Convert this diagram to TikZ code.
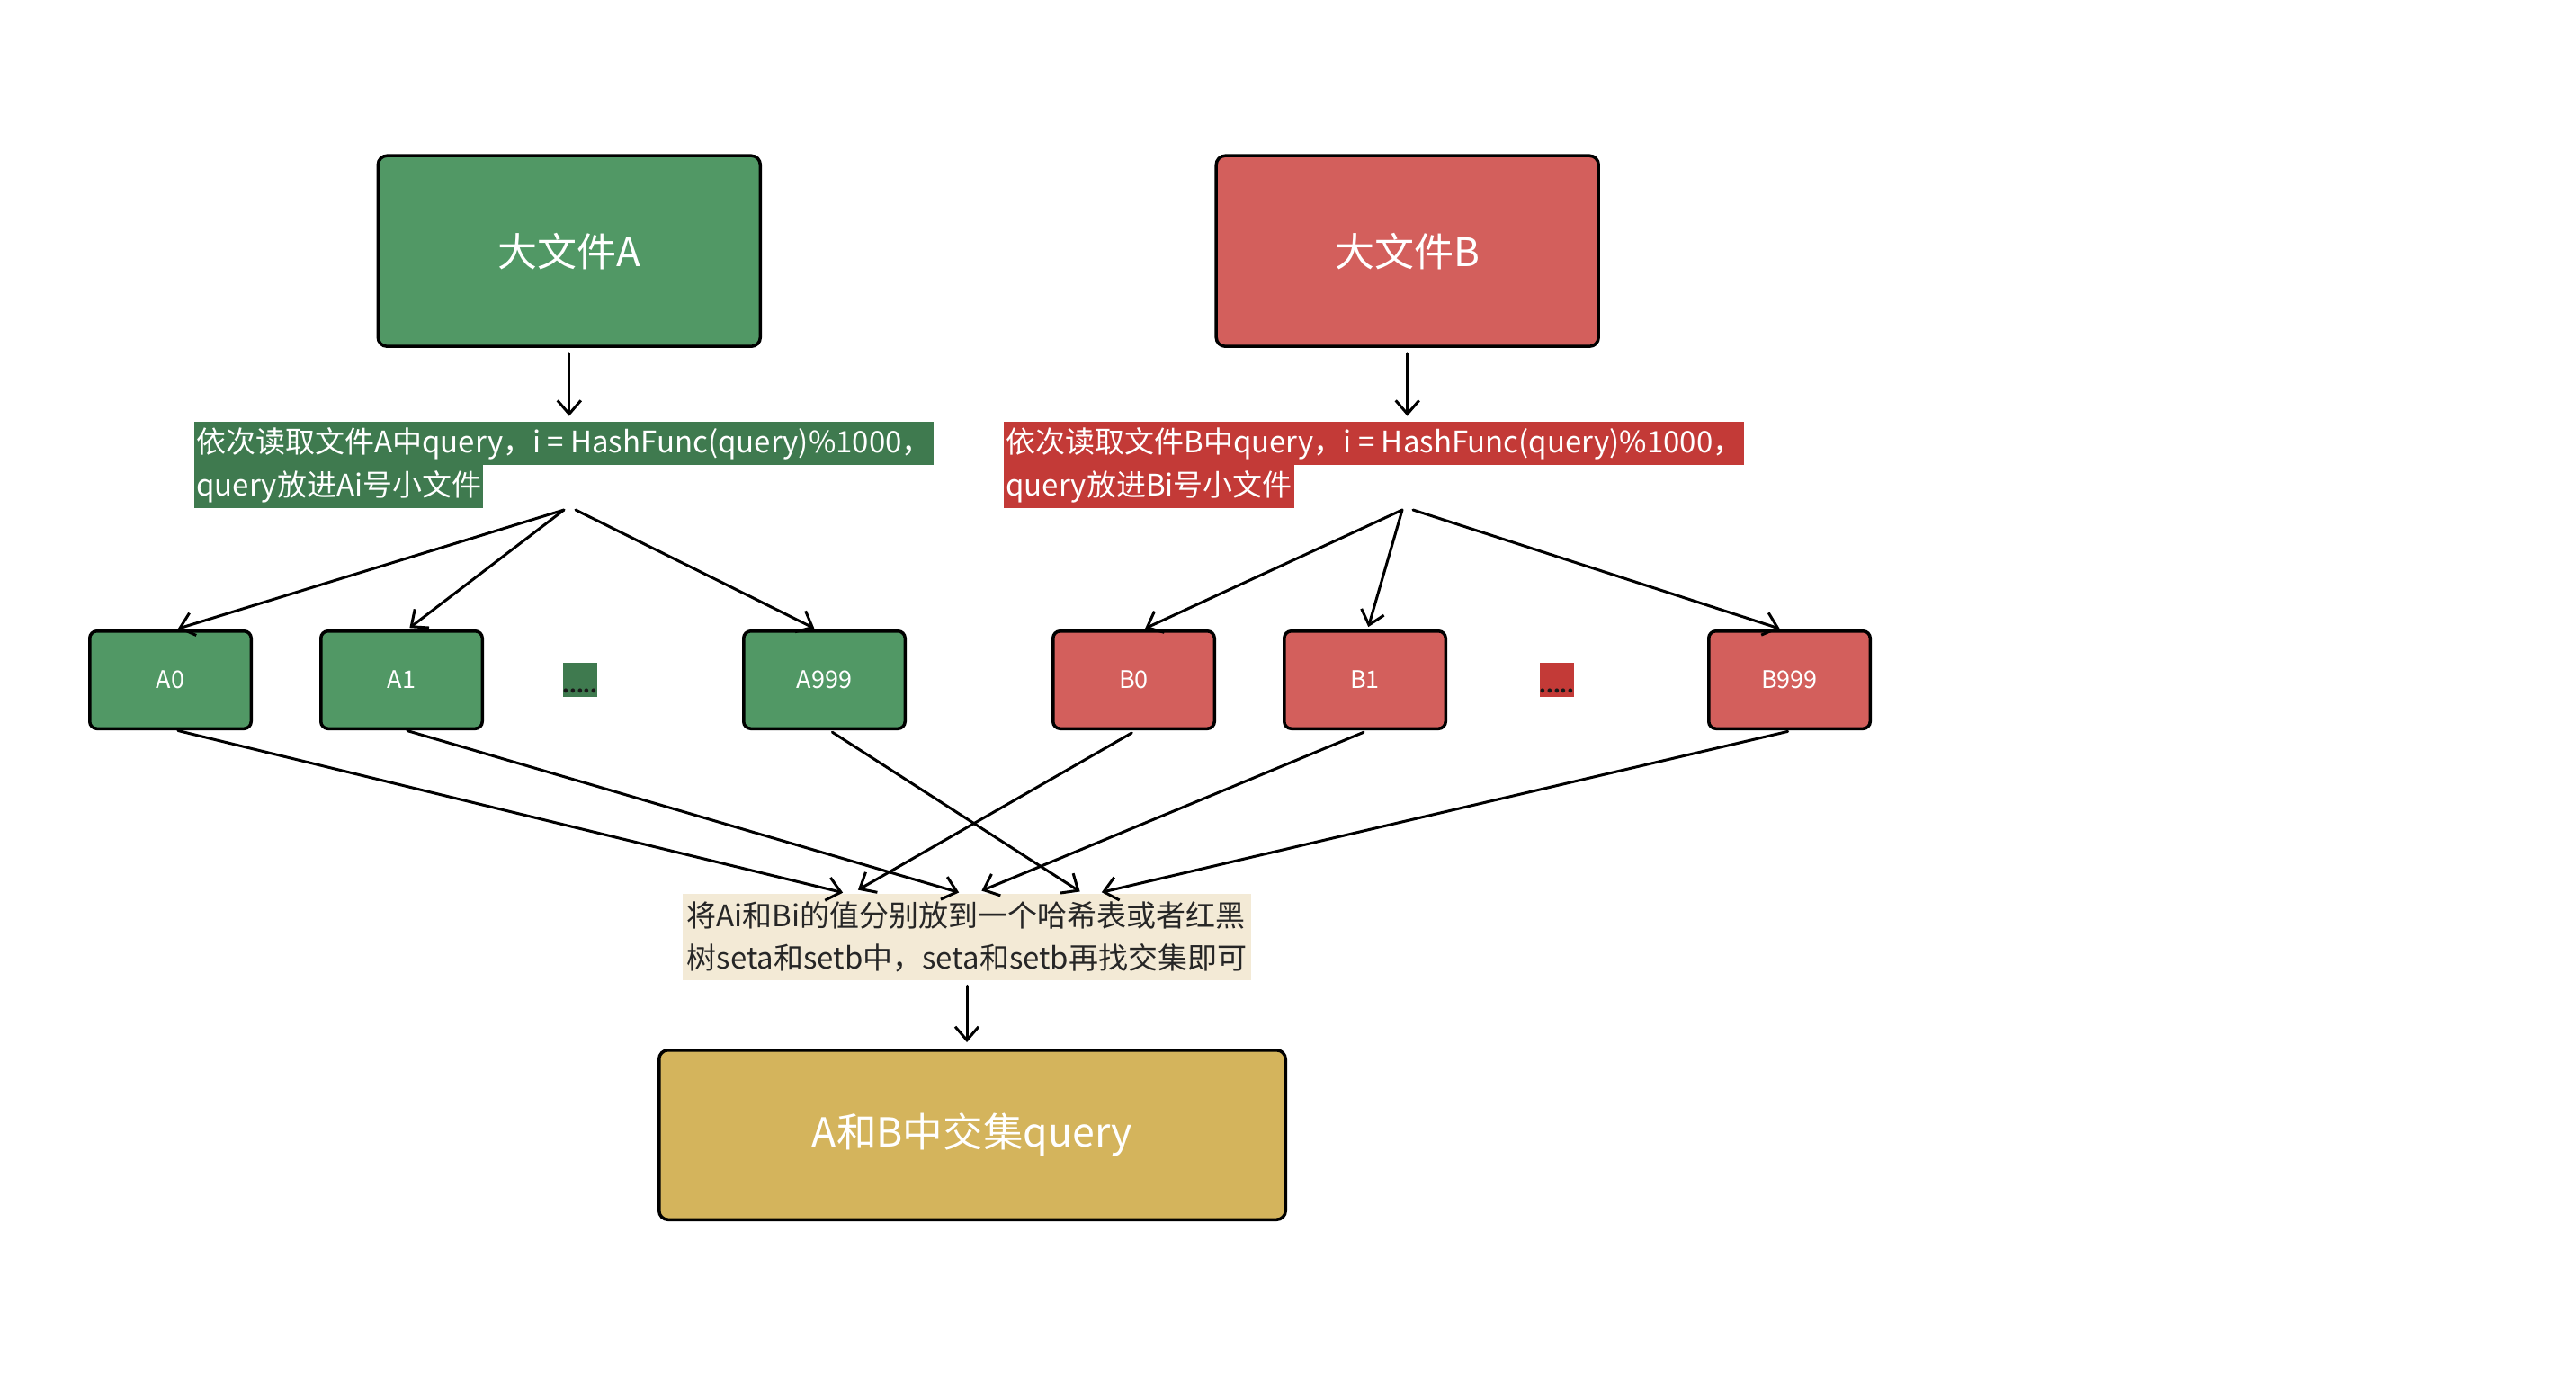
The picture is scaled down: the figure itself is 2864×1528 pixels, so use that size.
\documentclass[tikz,border=0pt]{standalone}
\usepackage{fontspec}
\setmainfont{Noto Sans CJK SC}
\usetikzlibrary{arrows.meta}
\definecolor{gbox}{HTML}{519865}
\definecolor{gband}{HTML}{3F7A4F}
\definecolor{rbox}{HTML}{D35F5C}
\definecolor{rband}{HTML}{C33A37}
\definecolor{ybox}{HTML}{D4B45C}
\definecolor{beige}{HTML}{F3EAD6}
\begin{document}
\begin{tikzpicture}[x=0.5pt,y=-0.5pt,
  bigbox/.style={draw=black, line width=1.75pt, rounded corners=5pt, minimum width=212.5pt, minimum height=106pt, text=white, font=\fontsize{22}{26}\selectfont, inner sep=0pt},
  smallbox/.style={draw=black, line width=1.75pt, rounded corners=4pt, minimum width=89.75pt, minimum height=54.25pt, text=white, font=\fontsize{13.5}{15}\selectfont, inner sep=0pt},
  band/.style={anchor=west, text=white, font=\fontsize{16.5}{20}\selectfont, minimum height=24pt, inner xsep=1pt, inner ysep=0pt},
  dotbox/.style={minimum width=18pt, minimum height=19pt, inner xsep=0pt, inner ysep=2pt, text height=14pt, text depth=0pt, font=\fontsize{11}{11}\selectfont\bfseries, text=black!90},
  arr/.style={-{Straight Barb[length=7.5pt,width=13pt]}, line width=1.5pt, line cap=round, line join=round},
]
\useasboundingbox (0,0) rectangle (2864,1528);

% big boxes
\node[bigbox, fill=gbox] (bigA) at (632.8,279.2) {大文件A};
\node[bigbox, fill=rbox] (bigB) at (1564.7,279.2) {大文件B};

% hash labels
\node[band, fill=gband] (labA1) at (216,493) {依次读取文件A中query，i = HashFunc(query)\%1000，};
\node[band, fill=gband] (labA2) at (216,541) {query放进Ai号小文件};
\node[band, fill=rband] (labB1) at (1116,493) {依次读取文件B中query，i = HashFunc(query)\%1000，};
\node[band, fill=rband] (labB2) at (1116,541) {query放进Bi号小文件};

% small boxes
\node[smallbox, fill=gbox] (A0) at (189.5,756) {A0};
\node[smallbox, fill=gbox] (A1) at (446.5,756) {A1};
\node[dotbox, fill=gband] (dA) at (645,756) {.....};
\node[smallbox, fill=gbox] (A999) at (916.5,756) {A999};
\node[smallbox, fill=rbox] (B0) at (1260.5,756) {B0};
\node[smallbox, fill=rbox] (B1) at (1517.5,756) {B1};
\node[dotbox, fill=rband] (dB) at (1731,756) {.....};
\node[smallbox, fill=rbox] (B999) at (1989.5,756) {B999};

% merge label
\node[fill=beige, minimum width=316pt, minimum height=48pt, inner sep=0pt, align=left, font=\fontsize{16.5}{23.5}\selectfont, text=black!85] (mid) at (1075,1042) {将Ai和Bi的值分别放到一个哈希表或者红黑\\树seta和setb中，seta和setb再找交集即可};

% result
\node[draw=black, line width=1.75pt, rounded corners=5pt, fill=ybox, minimum width=348.25pt, minimum height=94.25pt, text=white, font=\fontsize{22.3}{26}\selectfont, inner sep=0pt] (res) at (1081,1262) {A和B中交集query};

% connectors
\draw[arr, shorten <=3pt, shorten >=3pt] (bigA.south) -- (bigA.south |- labA1.north);
\draw[arr, shorten <=3pt, shorten >=3pt] (bigB.south) -- (bigB.south |- labB1.north);

\coordinate (srcA) at (633,567);
\coordinate (srcB) at (1565,567);
\draw[arr, shorten >=1.5pt] ([xshift=-3pt]srcA) -- ([xshift=2.75pt]A0.north);
\draw[arr, shorten >=1.5pt] ([xshift=-3pt]srcA) -- ([xshift=3.25pt]A1.north);
\draw[arr, shorten >=1.5pt] ([xshift=3.5pt]srcA) -- ([xshift=-4.25pt]A999.north);
\draw[arr, shorten >=1.5pt] ([xshift=-3pt]srcB) -- ([xshift=5pt]B0.north);
\draw[arr, shorten >=1.5pt] ([xshift=-3pt]srcB) -- ([xshift=1.5pt]B1.north);
\draw[arr, shorten >=1.5pt] ([xshift=3pt]srcB) -- ([xshift=-4pt]B999.north);

\draw[arr, shorten <=1pt, shorten >=2pt] ([xshift=3.25pt]A0.south) -- ([xshift=-67pt]mid.north);
\draw[arr, shorten <=1pt, shorten >=2pt] ([xshift=2.25pt]A1.south) -- ([xshift=-2.5pt]mid.north);
\draw[arr, shorten <=2pt, shorten >=2pt] ([xshift=2.75pt]A999.south) -- ([xshift=64.5pt]mid.north);
\draw[arr, shorten <=3pt, shorten >=4pt] ([xshift=1.5pt]B0.south) -- ([xshift=-64pt]mid.north);
\draw[arr, shorten <=3pt, shorten >=4pt] ([xshift=2pt]B1.south) -- ([xshift=4.5pt]mid.north);
\draw[arr, shorten <=3pt, shorten >=3pt] ([xshift=2pt]B999.south) -- ([xshift=72pt]mid.north);

\draw[arr, shorten <=3pt, shorten >=3.5pt] (mid.south) -- (mid.south |- res.north);
\end{tikzpicture}
\end{document}
